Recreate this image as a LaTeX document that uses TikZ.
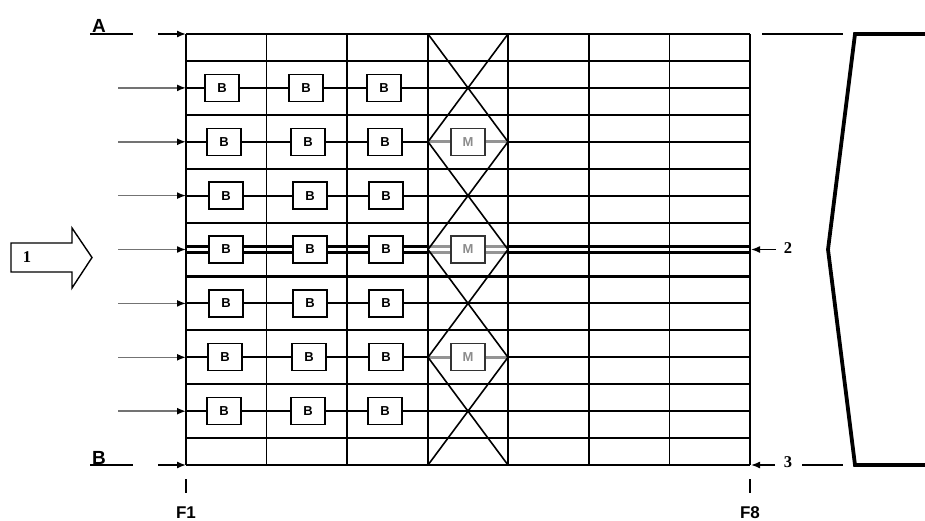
\documentclass[tikz,border=0pt]{standalone}
\usepackage{fontspec}
\setmainfont{Liberation Serif}
\setsansfont{Liberation Sans}
\usetikzlibrary{arrows.meta}
\begin{document}
\begin{tikzpicture}[x=1pt,y=-1pt,
  hline/.style={line width=2.1pt},
  edge/.style={line width=1.4pt},
  vline/.style={line width=1.6pt},
  mline/.style={line width=2.8pt, draw=black!42},
  bbox/.style={draw, line width=1.2pt, fill=white, minimum width=34pt, minimum height=27pt, inner sep=0pt, font=\sffamily\bfseries\fontsize{13}{13}\selectfont},
  mbox/.style={bbox, draw=black!80, text=black!45},
  inarrow/.style={draw=black!55, line width=1.6pt, -{Latex[length=9pt,width=7pt,color=black]}},
  blackarrow/.style={line width=1.4pt, -{Latex[length=9pt,width=7pt]}},
  biglabel/.style={font=\sffamily\bfseries\fontsize{19}{19}\selectfont, inner sep=0pt, anchor=base},
  flabel/.style={font=\sffamily\bfseries\fontsize{17}{17}\selectfont, inner sep=0pt, anchor=base},
  numlabel/.style={font=\bfseries\fontsize{16.5}{16.5}\selectfont, inner sep=0pt},
  border/.style={line width=3.8pt, line join=miter}
]
\useasboundingbox (0,0) rectangle (925,521);

% horizontal grid lines
\foreach \k in {1,2,3,5,6,7,9,10,11,13,14,15}
  \draw[hline] (186,{34+26.94*\k}) -- (750,{34+26.94*\k});
\draw[edge] (186,34) -- (750,34);
\draw[edge] (186,465) -- (750,465);
% M rows (single)
\foreach \y in {141.8,357.3}{
  \draw[hline] (186,\y) -- (428,\y);
  \draw[mline] (428,\y) -- (508,\y);
  \draw[hline] (508,\y) -- (750,\y);
}
% M row (double)
\foreach \y in {246.5,252.5}{
  \draw[hline] (186,\y) -- (428,\y);
  \draw[mline] (428,\y) -- (508,\y);
  \draw[hline] (508,\y) -- (750,\y);
}
% vertical grid lines
\foreach \j in {0,...,7}
  \draw[vline] ({186+80.57*\j},34) -- ({186+80.57*\j},465);
% zigzag crosses
\draw[vline] (428,34) -- (508,141.8) -- (428,249.5) -- (508,357.3) -- (428,465);
\draw[vline] (508,34) -- (428,141.8) -- (508,249.5) -- (428,357.3) -- (508,465);

% B boxes and input arrows
\foreach \r/\y/\xa/\xb/\xc in {1/87.9/222/306/384, 2/141.8/224/308/385, 3/195.6/226/310/386, 4/249.5/226/310/386, 5/303.4/226/310/386, 6/357.3/225/309/386, 7/411.2/224/308/385}{
  \coordinate (in\r) at (118,\y);
  \coordinate (g\r) at (186,\y);
  \draw[inarrow] (in\r) -- (g\r);
  \node[bbox] (b\r-1) at (\xa,\y) {B};
  \node[bbox] (b\r-2) at (\xb,\y) {B};
  \node[bbox] (b\r-3) at (\xc,\y) {B};
}
% M boxes
\node[mbox] (m1) at (468,141.8) {M};
\node[mbox] (m2) at (468,249.5) {M};
\node[mbox] (m3) at (468,357.3) {M};

% A / B side labels
\node[biglabel] (lA) at (99,33) {A};
\draw[edge] (90,34) -- (133,34);
\coordinate (tA) at (158,34);
\coordinate (gA) at (186,34);
\draw[blackarrow] (tA) -- (gA);
\node[biglabel] (lB) at (99,464.5) {B};
\draw[edge] (90,465) -- (133,465);
\coordinate (tB) at (158,465);
\coordinate (gB) at (186,465);
\draw[blackarrow] (tB) -- (gB);

% right side
\draw[edge] (762,34) -- (843,34);
\node[numlabel] (n2) at (788,248) {2};
\coordinate (g2) at (751,249.5);
\coordinate (s2) at (776,249.5);
\draw[blackarrow] (s2) -- (g2);
\node[numlabel] (n3) at (788,462) {3};
\coordinate (g3) at (751,465);
\coordinate (s3) at (775,465);
\draw[blackarrow] (s3) -- (g3);
\draw[edge] (802,465) -- (843,465);
\draw[border] (927,34) -- (855,34) -- (828,249.5) -- (855,465) -- (927,465);

% F labels
\draw[line width=1.2pt] (186,479) -- (186,493);
\draw[line width=1.2pt] (750,479) -- (750,493);
\node[flabel] (f1) at (186,518) {F1};
\node[flabel] (f8) at (750,518) {F8};

% big input arrow
\draw[line width=1.4pt, line join=miter] (11,243) -- (72,243) -- (72,228) -- (92,257.5) -- (72,288) -- (72,272) -- (11,272) -- cycle;
\node[numlabel] (n1) at (27,257) {1};
\end{tikzpicture}
\end{document}
